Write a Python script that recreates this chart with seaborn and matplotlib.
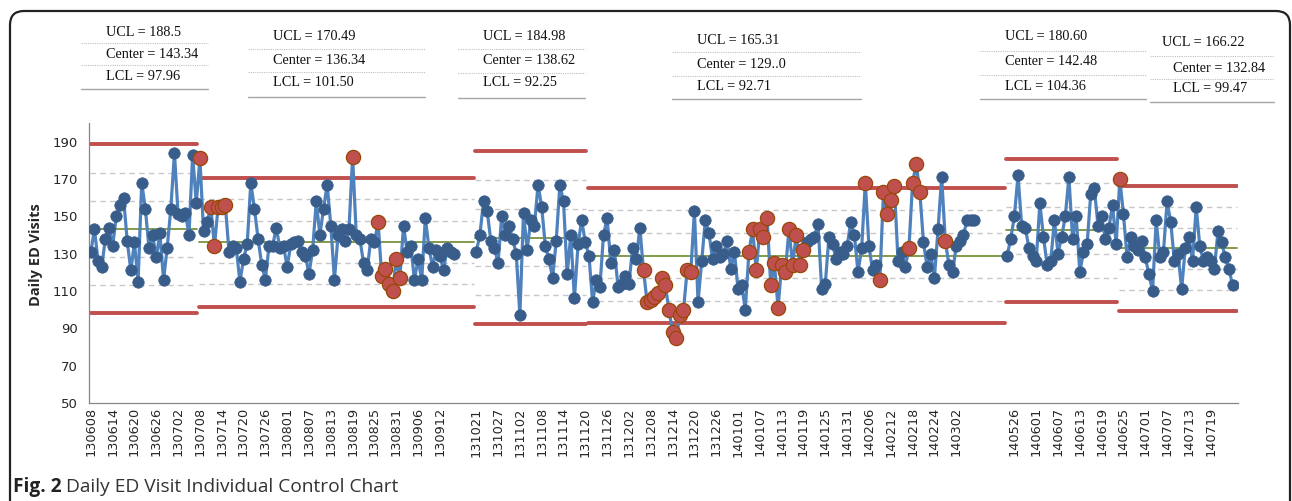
import numpy as np
import pandas as pd
import matplotlib
matplotlib.use("Agg")
import matplotlib.pyplot as plt
from matplotlib.patches import FancyBboxPatch
from matplotlib.transforms import IdentityTransform
import seaborn as sns

# ---- data -------------------------------------------------------------
phase_start = ["2013-06-08", "2013-07-08", "2013-10-21", "2013-11-21", "2014-05-24", "2014-06-24"]
blank_after = [0, 5, 0, 8, 0, 1]          # empty category slots after each phase

ucl = [188.5, 170.49, 184.98, 165.31, 180.60, 166.22]
center = [143.34, 136.34, 138.62, 129.0, 142.48, 132.84]
lcl = [97.96, 101.50, 92.25, 92.71, 104.36, 99.47]
ucl_text = ["188.5", "170.49", "184.98", "165.31", "180.60", "166.22"]
center_text = ["143.34", "136.34", "138.62", "129..0", "142.48", "132.84"]
lcl_text = ["97.96", "101.50", "92.25", "92.71", "104.36", "99.47"]

visits_p1 = [131, 143, 126, 123, 138, 144, 134, 150, 156, 160, 137, 121, 136, 115, 168,
             154, 133, 140, 128, 141, 116, 133, 154, 184, 151, 150, 152, 140, 183, 157]
visits_p2 = [181, 142, 147, 155, 134, 155, 155, 156, 131, 134, 133, 115, 127, 135, 168,
             154, 138, 124, 116, 134, 134, 144, 133, 134, 123, 135, 136, 137, 131, 129,
             119, 132, 158, 140, 154, 167, 145, 116, 140, 143, 137, 143, 182, 140, 138,
             125, 121, 138, 136, 147, 118, 122, 114, 110, 127, 117, 145, 131, 134, 116,
             127, 116, 149, 133, 123, 132, 129, 121, 133, 131, 130]
visits_p3 = [131, 140, 158, 153, 137, 133, 125, 150, 140, 145, 138, 130, 97, 152, 132,
             148, 145, 167, 155, 134, 127, 117, 137, 167, 158, 119, 140, 106, 135, 148, 136]
visits_p4 = [129, 104, 116, 112, 140, 149, 125, 132, 112, 114, 118, 114, 133, 127, 144,
             121, 104, 105, 107, 109, 117, 113, 100, 88, 85, 97, 100, 121, 120, 153,
             104, 126, 148, 141, 127, 134, 128, 130, 137, 122, 131, 111, 113, 100, 131,
             143, 121, 143, 139, 149, 113, 125, 101, 124, 120, 143, 124, 140, 124, 132,
             136, 138, 139, 146, 111, 114, 139, 135, 127, 131, 130, 134, 147, 140, 120,
             133, 168, 134, 121, 124, 116, 163, 151, 159, 166, 126, 131, 123, 133, 168,
             178, 163, 136, 123, 130, 117, 143, 171, 137, 124, 120, 134, 137, 140, 148,
             148, 148]
visits_p5 = [129, 138, 150, 172, 145, 144, 133, 129, 126, 157, 139, 124, 126, 148, 130,
             139, 150, 171, 138, 150, 120, 131, 135, 162, 165, 145, 150, 138, 144, 156, 135]
visits_p6 = [170, 151, 128, 139, 134, 132, 137, 128, 119, 110, 148, 128, 131, 158, 147,
             126, 130, 111, 133, 139, 126, 155, 134, 126, 128, 126, 122, 142, 136, 128,
             122, 113]

# out-of-control points (position within each phase)
flag_p1 = []
flag_p2 = [0, 3, 4, 5, 6, 7, 42, 49, 50, 51, 52, 53, 54, 55]
flag_p3 = []
flag_p4 = list(range(15, 29)) + list(range(44, 60)) + [76, 80, 81, 82, 83, 84, 88, 89, 90, 91, 98]
flag_p5 = []
flag_p6 = [0]

tick_labels = ["130608", "130614", "130620", "130626", "130702", "130708", "130714",
               "130720", "130726", "130801", "130807", "130813", "130819", "130825",
               "130831", "130906", "130912", "131021", "131027", "131102", "131108",
               "131114", "131120", "131126", "131202", "131208", "131214", "131220",
               "131226", "140101", "140107", "140113", "140119", "140125", "140131",
               "140206", "140212", "140218", "140224", "140302", "140526", "140601",
               "140607", "140613", "140619", "140625", "140701", "140707", "140713",
               "140719"]

visits = [visits_p1, visits_p2, visits_p3, visits_p4, visits_p5, visits_p6]
flags = [flag_p1, flag_p2, flag_p3, flag_p4, flag_p5, flag_p6]

# ---- build category slots ----------------------------------------------
rows, limit_rows, cats = [], [], []
slot = 0
for p, (start, vals, fl) in enumerate(zip(phase_start, visits, flags)):
    dates = pd.date_range(start, periods=len(vals)).strftime("%y%m%d")
    first = slot
    for i, (d, v) in enumerate(zip(dates, vals)):
        rows.append(dict(slot=slot, visits=v, phase=p, flagged=i in fl))
        cats.append(d)
        slot += 1
    for _ in range(blank_after[p]):
        cats.append("")
        slot += 1
    last = slot - 1
    sigma = (ucl[p] - center[p]) / 3
    levels = {"ucl": ucl[p], "lcl": lcl[p], "center": center[p],
              "z1": center[p] + sigma, "z2": center[p] + 2 * sigma,
              "z3": center[p] - sigma, "z4": center[p] - 2 * sigma}
    for kind, y in levels.items():
        for xx in (first - 0.3, last + 0.3):
            limit_rows.append(dict(slot=xx, value=y, kind=kind, line=f"{kind}{p}"))

pts = pd.DataFrame(rows)
pts["run"] = (pts["slot"].diff().fillna(1) > 1).cumsum()
lim = pd.DataFrame(limit_rows)
n_slots = len(cats)

# ---- figure -------------------------------------------------------------
sns.set_style("white")
plt.rcParams["font.family"] = ["DejaVu Sans"]

W, H = 1292, 501
fig = plt.figure(figsize=(W / 100, H / 100), dpi=100)
fx = lambda px: px / W
fy = lambda py: 1 - py / H
ax = fig.add_axes([fx(89), fy(403), fx(1238) - fx(89), fy(123) - fy(403)])

zones = lim[lim["kind"].str.startswith("z")]
sns.lineplot(data=zones, x="slot", y="value", units="line", estimator=None, sort=False,
             color="#c8c8c8", lw=1.0, linestyle=(0, (4, 3)), ax=ax, zorder=1)
sns.lineplot(data=lim[lim["kind"] == "center"], x="slot", y="value", units="line",
             estimator=None, sort=False, color="#77933c", lw=1.3, ax=ax, zorder=2)
sns.lineplot(data=lim[lim["kind"].isin(["ucl", "lcl"])], x="slot", y="value", units="line",
             estimator=None, sort=False, color="#c0504d", lw=2.8, ax=ax, zorder=2)

sns.lineplot(data=pts, x="slot", y="visits", units="run", estimator=None, sort=False,
             color="#4f81bd", lw=2.3, ax=ax, zorder=3)
sns.scatterplot(data=pts[~pts["flagged"]], x="slot", y="visits", color="#385d8a",
                edgecolor="#385d8a", linewidth=0.5, s=68, ax=ax, zorder=4)
sns.scatterplot(data=pts[pts["flagged"]], x="slot", y="visits", color="#c0504d",
                edgecolor="#984807", linewidth=0.9, s=105, ax=ax, zorder=5)

ax.set_xlim(-0.5, n_slots - 0.5)
ax.set_ylim(50, 200)
ax.set_yticks(range(50, 191, 20))
tick_pos = [cats.index(t) for t in tick_labels]
ax.set_xticks(tick_pos)
ax.set_xticklabels(tick_labels, rotation=90, fontsize=9.3)
ax.set_xticks(np.arange(-0.5, n_slots, 1), minor=True)
ax.tick_params(axis="x", which="major", length=0, pad=3)
ax.tick_params(axis="x", which="minor", length=4, width=0.6, color="#868686", direction="out")
ax.tick_params(axis="y", length=5, width=0.8, color="#868686", labelsize=9.5, direction="out", pad=3)
ax.tick_params(axis="y", which="minor", length=0)
ax.set_xlabel("")
ax.set_ylabel("Daily ED Visits", fontsize=10.5, fontweight="bold", family="Open Sans", va="center")
ax.yaxis.set_label_coords((36 - 89) / (1238 - 89), 0.53)
sns.despine(ax=ax)
for s in ("left", "bottom"):
    ax.spines[s].set_color("#868686")
    ax.spines[s].set_linewidth(0.9)

# ---- limit value tables above the chart ----------------------------------
# (line left, line right, text left, rows y) in pixels
boxes = [(81, 208, 106, (33, 43, 54, 65, 76, 89)),
         (248, 425, 273, (37, 49, 61, 72, 83, 97)),
         (458, 585, 483, (37, 49, 61, 73, 83, 98)),
         (672, 861, 697, (41, 52, 64, 76, 87, 99)),
         (980, 1146, 1005, (37, 51, 62, 75, 86, 99)),
         (1150, 1274, 1162, (42, 56, 68, 79, 89, 102))]
serif = dict(family="Liberation Serif", fontsize=10.3, color="#111111", va="center")
for p, (x0, x1, tx, ys) in enumerate(boxes):
    cx = tx + (11 if p == 5 else 0)
    fig.text(fx(tx), fy(ys[0]), f"UCL = {ucl_text[p]}", **serif)
    fig.text(fx(cx), fy(ys[2]), f"Center = {center_text[p]}", **serif)
    fig.text(fx(cx), fy(ys[4]), f"LCL = {lcl_text[p]}", **serif)
    for yy in (ys[1], ys[3]):
        fig.add_artist(plt.Line2D([fx(x0), fx(x1)], [fy(yy), fy(yy)], color="#c0c0c0",
                                  lw=0.8, linestyle=(0, (1, 1))))
    fig.add_artist(plt.Line2D([fx(x0), fx(x1)], [fy(ys[5]), fy(ys[5])], color="#a6a6a6", lw=1.0))

# ---- frame and caption ----------------------------------------------------
frame = FancyBboxPatch((10, -60), 1280, H - 11 + 60, boxstyle="round,pad=0,rounding_size=14",
                       transform=IdentityTransform(), fill=False, edgecolor="#222222", lw=1.6)
fig.add_artist(frame)

t1 = fig.text(fx(13), fy(487), "Fig. 2", family="Open Sans", fontweight="bold",
              fontsize=13.8, va="center", color="#222222")
fig.canvas.draw()
bb = t1.get_window_extent()
fig.text((bb.x1 + 4) / W, fy(487), "Daily ED Visit Individual Control Chart", family="Open Sans",
         fontsize=13.8, va="center", color="#333333")

fig.savefig("out.png", dpi=100)
